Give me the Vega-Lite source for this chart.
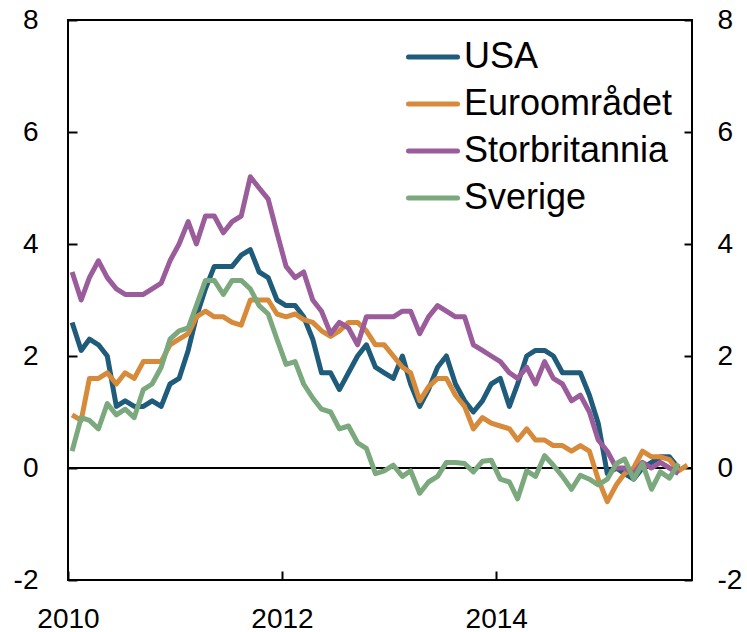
{
"$schema": "https://vega.github.io/schema/vega-lite/v6.json",
"width": 624, "height": 560,
"autosize": {"type": "none"},
"padding": {"left": 68, "top": 20, "right": 55, "bottom": 52},
"background": "white",
"config": {
  "font": "Liberation Sans",
  "view": {"stroke": "black", "strokeWidth": 2},
  "axis": {"labelFont": "Liberation Sans", "labelFontSize": 28, "labelColor": "black", "domainColor": "black", "domainWidth": 2, "tickColor": "black", "tickWidth": 2, "grid": false, "labelFlush": false, "labelOverlap": false}
},
"datasets": {
"cpi": [
{"d":"2010-01-15","s":"USA","v":2.6},{"d":"2010-02-15","s":"USA","v":2.1},{"d":"2010-03-15","s":"USA","v":2.3},{"d":"2010-04-15","s":"USA","v":2.2},{"d":"2010-05-15","s":"USA","v":2.0},{"d":"2010-06-15","s":"USA","v":1.1},{"d":"2010-07-15","s":"USA","v":1.2},{"d":"2010-08-15","s":"USA","v":1.1},{"d":"2010-09-15","s":"USA","v":1.1},{"d":"2010-10-15","s":"USA","v":1.2},{"d":"2010-11-15","s":"USA","v":1.1},{"d":"2010-12-15","s":"USA","v":1.5},
{"d":"2011-01-15","s":"USA","v":1.6},{"d":"2011-02-15","s":"USA","v":2.1},{"d":"2011-03-15","s":"USA","v":2.7},{"d":"2011-04-15","s":"USA","v":3.2},{"d":"2011-05-15","s":"USA","v":3.6},{"d":"2011-06-15","s":"USA","v":3.6},{"d":"2011-07-15","s":"USA","v":3.6},{"d":"2011-08-15","s":"USA","v":3.8},{"d":"2011-09-15","s":"USA","v":3.9},{"d":"2011-10-15","s":"USA","v":3.5},{"d":"2011-11-15","s":"USA","v":3.4},{"d":"2011-12-15","s":"USA","v":3.0},
{"d":"2012-01-15","s":"USA","v":2.9},{"d":"2012-02-15","s":"USA","v":2.9},{"d":"2012-03-15","s":"USA","v":2.7},{"d":"2012-04-15","s":"USA","v":2.3},{"d":"2012-05-15","s":"USA","v":1.7},{"d":"2012-06-15","s":"USA","v":1.7},{"d":"2012-07-15","s":"USA","v":1.4},{"d":"2012-08-15","s":"USA","v":1.7},{"d":"2012-09-15","s":"USA","v":2.0},{"d":"2012-10-15","s":"USA","v":2.2},{"d":"2012-11-15","s":"USA","v":1.8},{"d":"2012-12-15","s":"USA","v":1.7},
{"d":"2013-01-15","s":"USA","v":1.6},{"d":"2013-02-15","s":"USA","v":2.0},{"d":"2013-03-15","s":"USA","v":1.5},{"d":"2013-04-15","s":"USA","v":1.1},{"d":"2013-05-15","s":"USA","v":1.4},{"d":"2013-06-15","s":"USA","v":1.8},{"d":"2013-07-15","s":"USA","v":2.0},{"d":"2013-08-15","s":"USA","v":1.5},{"d":"2013-09-15","s":"USA","v":1.2},{"d":"2013-10-15","s":"USA","v":1.0},{"d":"2013-11-15","s":"USA","v":1.2},{"d":"2013-12-15","s":"USA","v":1.5},
{"d":"2014-01-15","s":"USA","v":1.6},{"d":"2014-02-15","s":"USA","v":1.1},{"d":"2014-03-15","s":"USA","v":1.5},{"d":"2014-04-15","s":"USA","v":2.0},{"d":"2014-05-15","s":"USA","v":2.1},{"d":"2014-06-15","s":"USA","v":2.1},{"d":"2014-07-15","s":"USA","v":2.0},{"d":"2014-08-15","s":"USA","v":1.7},{"d":"2014-09-15","s":"USA","v":1.7},{"d":"2014-10-15","s":"USA","v":1.7},{"d":"2014-11-15","s":"USA","v":1.3},{"d":"2014-12-15","s":"USA","v":0.8},
{"d":"2015-01-15","s":"USA","v":-0.1},{"d":"2015-02-15","s":"USA","v":0.0},{"d":"2015-03-15","s":"USA","v":-0.1},{"d":"2015-04-15","s":"USA","v":-0.2},{"d":"2015-05-15","s":"USA","v":0.0},{"d":"2015-06-15","s":"USA","v":0.1},{"d":"2015-07-15","s":"USA","v":0.2},{"d":"2015-08-15","s":"USA","v":0.2},{"d":"2015-09-15","s":"USA","v":0.0},

{"d":"2010-01-15","s":"Euroområdet","v":0.95},{"d":"2010-02-15","s":"Euroområdet","v":0.85},{"d":"2010-03-15","s":"Euroområdet","v":1.6},{"d":"2010-04-15","s":"Euroområdet","v":1.6},{"d":"2010-05-15","s":"Euroområdet","v":1.7},{"d":"2010-06-15","s":"Euroområdet","v":1.5},{"d":"2010-07-15","s":"Euroområdet","v":1.7},{"d":"2010-08-15","s":"Euroområdet","v":1.6},{"d":"2010-09-15","s":"Euroområdet","v":1.9},{"d":"2010-10-15","s":"Euroområdet","v":1.9},{"d":"2010-11-15","s":"Euroområdet","v":1.9},{"d":"2010-12-15","s":"Euroområdet","v":2.2},
{"d":"2011-01-15","s":"Euroområdet","v":2.3},{"d":"2011-02-15","s":"Euroområdet","v":2.4},{"d":"2011-03-15","s":"Euroområdet","v":2.7},{"d":"2011-04-15","s":"Euroområdet","v":2.8},{"d":"2011-05-15","s":"Euroområdet","v":2.7},{"d":"2011-06-15","s":"Euroområdet","v":2.7},{"d":"2011-07-15","s":"Euroområdet","v":2.6},{"d":"2011-08-15","s":"Euroområdet","v":2.55},{"d":"2011-09-15","s":"Euroområdet","v":3.0},{"d":"2011-10-15","s":"Euroområdet","v":3.0},{"d":"2011-11-15","s":"Euroområdet","v":3.0},{"d":"2011-12-15","s":"Euroområdet","v":2.75},
{"d":"2012-01-15","s":"Euroområdet","v":2.7},{"d":"2012-02-15","s":"Euroområdet","v":2.75},{"d":"2012-03-15","s":"Euroområdet","v":2.65},{"d":"2012-04-15","s":"Euroområdet","v":2.6},{"d":"2012-05-15","s":"Euroområdet","v":2.45},{"d":"2012-06-15","s":"Euroområdet","v":2.35},{"d":"2012-07-15","s":"Euroområdet","v":2.45},{"d":"2012-08-15","s":"Euroområdet","v":2.6},{"d":"2012-09-15","s":"Euroområdet","v":2.6},{"d":"2012-10-15","s":"Euroområdet","v":2.45},{"d":"2012-11-15","s":"Euroområdet","v":2.2},{"d":"2012-12-15","s":"Euroområdet","v":2.2},
{"d":"2013-01-15","s":"Euroområdet","v":2.0},{"d":"2013-02-15","s":"Euroområdet","v":1.8},{"d":"2013-03-15","s":"Euroområdet","v":1.7},{"d":"2013-04-15","s":"Euroområdet","v":1.2},{"d":"2013-05-15","s":"Euroområdet","v":1.45},{"d":"2013-06-15","s":"Euroområdet","v":1.6},{"d":"2013-07-15","s":"Euroområdet","v":1.6},{"d":"2013-08-15","s":"Euroområdet","v":1.3},{"d":"2013-09-15","s":"Euroområdet","v":1.1},{"d":"2013-10-15","s":"Euroområdet","v":0.7},{"d":"2013-11-15","s":"Euroområdet","v":0.9},{"d":"2013-12-15","s":"Euroområdet","v":0.8},
{"d":"2014-01-15","s":"Euroområdet","v":0.75},{"d":"2014-02-15","s":"Euroområdet","v":0.7},{"d":"2014-03-15","s":"Euroområdet","v":0.5},{"d":"2014-04-15","s":"Euroområdet","v":0.7},{"d":"2014-05-15","s":"Euroområdet","v":0.5},{"d":"2014-06-15","s":"Euroområdet","v":0.5},{"d":"2014-07-15","s":"Euroområdet","v":0.4},{"d":"2014-08-15","s":"Euroområdet","v":0.4},{"d":"2014-09-15","s":"Euroområdet","v":0.3},{"d":"2014-10-15","s":"Euroområdet","v":0.4},{"d":"2014-11-15","s":"Euroområdet","v":0.3},{"d":"2014-12-15","s":"Euroområdet","v":-0.2},
{"d":"2015-01-15","s":"Euroområdet","v":-0.6},{"d":"2015-02-15","s":"Euroområdet","v":-0.3},{"d":"2015-03-15","s":"Euroområdet","v":-0.1},{"d":"2015-04-15","s":"Euroområdet","v":0.0},{"d":"2015-05-15","s":"Euroområdet","v":0.3},{"d":"2015-06-15","s":"Euroområdet","v":0.2},{"d":"2015-07-15","s":"Euroområdet","v":0.2},{"d":"2015-08-15","s":"Euroområdet","v":0.15},{"d":"2015-09-15","s":"Euroområdet","v":-0.05},{"d":"2015-10-15","s":"Euroområdet","v":0.05},

{"d":"2010-01-15","s":"Storbritannia","v":3.5},{"d":"2010-02-15","s":"Storbritannia","v":3.0},{"d":"2010-03-15","s":"Storbritannia","v":3.4},{"d":"2010-04-15","s":"Storbritannia","v":3.7},{"d":"2010-05-15","s":"Storbritannia","v":3.4},{"d":"2010-06-15","s":"Storbritannia","v":3.2},{"d":"2010-07-15","s":"Storbritannia","v":3.1},{"d":"2010-08-15","s":"Storbritannia","v":3.1},{"d":"2010-09-15","s":"Storbritannia","v":3.1},{"d":"2010-10-15","s":"Storbritannia","v":3.2},{"d":"2010-11-15","s":"Storbritannia","v":3.3},{"d":"2010-12-15","s":"Storbritannia","v":3.7},
{"d":"2011-01-15","s":"Storbritannia","v":4.0},{"d":"2011-02-15","s":"Storbritannia","v":4.4},{"d":"2011-03-15","s":"Storbritannia","v":4.0},{"d":"2011-04-15","s":"Storbritannia","v":4.5},{"d":"2011-05-15","s":"Storbritannia","v":4.5},{"d":"2011-06-15","s":"Storbritannia","v":4.2},{"d":"2011-07-15","s":"Storbritannia","v":4.4},{"d":"2011-08-15","s":"Storbritannia","v":4.5},{"d":"2011-09-15","s":"Storbritannia","v":5.2},{"d":"2011-10-15","s":"Storbritannia","v":5.0},{"d":"2011-11-15","s":"Storbritannia","v":4.8},{"d":"2011-12-15","s":"Storbritannia","v":4.2},
{"d":"2012-01-15","s":"Storbritannia","v":3.6},{"d":"2012-02-15","s":"Storbritannia","v":3.4},{"d":"2012-03-15","s":"Storbritannia","v":3.5},{"d":"2012-04-15","s":"Storbritannia","v":3.0},{"d":"2012-05-15","s":"Storbritannia","v":2.8},{"d":"2012-06-15","s":"Storbritannia","v":2.4},{"d":"2012-07-15","s":"Storbritannia","v":2.6},{"d":"2012-08-15","s":"Storbritannia","v":2.5},{"d":"2012-09-15","s":"Storbritannia","v":2.2},{"d":"2012-10-15","s":"Storbritannia","v":2.7},{"d":"2012-11-15","s":"Storbritannia","v":2.7},{"d":"2012-12-15","s":"Storbritannia","v":2.7},
{"d":"2013-01-15","s":"Storbritannia","v":2.7},{"d":"2013-02-15","s":"Storbritannia","v":2.8},{"d":"2013-03-15","s":"Storbritannia","v":2.8},{"d":"2013-04-15","s":"Storbritannia","v":2.4},{"d":"2013-05-15","s":"Storbritannia","v":2.7},{"d":"2013-06-15","s":"Storbritannia","v":2.9},{"d":"2013-07-15","s":"Storbritannia","v":2.8},{"d":"2013-08-15","s":"Storbritannia","v":2.7},{"d":"2013-09-15","s":"Storbritannia","v":2.7},{"d":"2013-10-15","s":"Storbritannia","v":2.2},{"d":"2013-11-15","s":"Storbritannia","v":2.1},{"d":"2013-12-15","s":"Storbritannia","v":2.0},
{"d":"2014-01-15","s":"Storbritannia","v":1.9},{"d":"2014-02-15","s":"Storbritannia","v":1.7},{"d":"2014-03-15","s":"Storbritannia","v":1.6},{"d":"2014-04-15","s":"Storbritannia","v":1.8},{"d":"2014-05-15","s":"Storbritannia","v":1.5},{"d":"2014-06-15","s":"Storbritannia","v":1.9},{"d":"2014-07-15","s":"Storbritannia","v":1.6},{"d":"2014-08-15","s":"Storbritannia","v":1.5},{"d":"2014-09-15","s":"Storbritannia","v":1.2},{"d":"2014-10-15","s":"Storbritannia","v":1.3},{"d":"2014-11-15","s":"Storbritannia","v":1.0},{"d":"2014-12-15","s":"Storbritannia","v":0.5},
{"d":"2015-01-15","s":"Storbritannia","v":0.3},{"d":"2015-02-15","s":"Storbritannia","v":0.0},{"d":"2015-03-15","s":"Storbritannia","v":0.0},{"d":"2015-04-15","s":"Storbritannia","v":-0.1},{"d":"2015-05-15","s":"Storbritannia","v":0.1},{"d":"2015-06-15","s":"Storbritannia","v":0.0},{"d":"2015-07-15","s":"Storbritannia","v":0.1},{"d":"2015-08-15","s":"Storbritannia","v":0.0},{"d":"2015-09-15","s":"Storbritannia","v":-0.1},

{"d":"2010-01-15","s":"Sverige","v":0.3},{"d":"2010-02-15","s":"Sverige","v":0.9},{"d":"2010-03-15","s":"Sverige","v":0.85},{"d":"2010-04-15","s":"Sverige","v":0.7},{"d":"2010-05-15","s":"Sverige","v":1.15},{"d":"2010-06-15","s":"Sverige","v":0.95},{"d":"2010-07-15","s":"Sverige","v":1.05},{"d":"2010-08-15","s":"Sverige","v":0.9},{"d":"2010-09-15","s":"Sverige","v":1.4},{"d":"2010-10-15","s":"Sverige","v":1.5},{"d":"2010-11-15","s":"Sverige","v":1.8},{"d":"2010-12-15","s":"Sverige","v":2.3},
{"d":"2011-01-15","s":"Sverige","v":2.45},{"d":"2011-02-15","s":"Sverige","v":2.5},{"d":"2011-03-15","s":"Sverige","v":2.9},{"d":"2011-04-15","s":"Sverige","v":3.35},{"d":"2011-05-15","s":"Sverige","v":3.35},{"d":"2011-06-15","s":"Sverige","v":3.1},{"d":"2011-07-15","s":"Sverige","v":3.35},{"d":"2011-08-15","s":"Sverige","v":3.35},{"d":"2011-09-15","s":"Sverige","v":3.2},{"d":"2011-10-15","s":"Sverige","v":2.9},{"d":"2011-11-15","s":"Sverige","v":2.75},{"d":"2011-12-15","s":"Sverige","v":2.3},
{"d":"2012-01-15","s":"Sverige","v":1.85},{"d":"2012-02-15","s":"Sverige","v":1.9},{"d":"2012-03-15","s":"Sverige","v":1.5},{"d":"2012-04-15","s":"Sverige","v":1.25},{"d":"2012-05-15","s":"Sverige","v":1.05},{"d":"2012-06-15","s":"Sverige","v":1.0},{"d":"2012-07-15","s":"Sverige","v":0.7},{"d":"2012-08-15","s":"Sverige","v":0.75},{"d":"2012-09-15","s":"Sverige","v":0.45},{"d":"2012-10-15","s":"Sverige","v":0.35},{"d":"2012-11-15","s":"Sverige","v":-0.1},{"d":"2012-12-15","s":"Sverige","v":-0.05},
{"d":"2013-01-15","s":"Sverige","v":0.05},{"d":"2013-02-15","s":"Sverige","v":-0.15},{"d":"2013-03-15","s":"Sverige","v":-0.05},{"d":"2013-04-15","s":"Sverige","v":-0.45},{"d":"2013-05-15","s":"Sverige","v":-0.25},{"d":"2013-06-15","s":"Sverige","v":-0.15},{"d":"2013-07-15","s":"Sverige","v":0.1},{"d":"2013-08-15","s":"Sverige","v":0.1},{"d":"2013-09-15","s":"Sverige","v":0.08},{"d":"2013-10-15","s":"Sverige","v":-0.07},{"d":"2013-11-15","s":"Sverige","v":0.12},{"d":"2013-12-15","s":"Sverige","v":0.14},
{"d":"2014-01-15","s":"Sverige","v":-0.2},{"d":"2014-02-15","s":"Sverige","v":-0.25},{"d":"2014-03-15","s":"Sverige","v":-0.55},{"d":"2014-04-15","s":"Sverige","v":-0.05},{"d":"2014-05-15","s":"Sverige","v":-0.15},{"d":"2014-06-15","s":"Sverige","v":0.22},{"d":"2014-07-15","s":"Sverige","v":0.05},{"d":"2014-08-15","s":"Sverige","v":-0.15},{"d":"2014-09-15","s":"Sverige","v":-0.38},{"d":"2014-10-15","s":"Sverige","v":-0.13},{"d":"2014-11-15","s":"Sverige","v":-0.2},{"d":"2014-12-15","s":"Sverige","v":-0.3},
{"d":"2015-01-15","s":"Sverige","v":-0.2},{"d":"2015-02-15","s":"Sverige","v":0.08},{"d":"2015-03-15","s":"Sverige","v":0.16},{"d":"2015-04-15","s":"Sverige","v":-0.2},{"d":"2015-05-15","s":"Sverige","v":0.08},{"d":"2015-06-15","s":"Sverige","v":-0.38},{"d":"2015-07-15","s":"Sverige","v":-0.07},{"d":"2015-08-15","s":"Sverige","v":-0.18},{"d":"2015-09-15","s":"Sverige","v":0.08}
],
"zero": [{"z": 0}]
},
"layer": [
  {
    "data": {"name": "zero"},
    "mark": {"type": "rule", "color": "black", "strokeWidth": 2},
    "encoding": {
      "y": {"field": "z", "type": "quantitative",
        "scale": {"domain": [-2, 8], "nice": false, "zero": false},
        "axis": {"orient": "right", "title": null, "values": [-2, 0, 2, 4, 6, 8], "tickSize": -8, "labelPadding": 33, "labelAlign": "left", "labelBaseline": "middle", "domain": false, "labelExpr": "replace(datum.label, '\u2212', '-')"}}
    }
  },
  {
    "data": {"name": "cpi"},
    "mark": {"type": "line", "strokeWidth": 5, "strokeJoin": "round", "clip": true},
    "encoding": {
      "x": {"field": "d", "type": "temporal",
        "scale": {"type": "utc", "domain": [{"year": 2010, "month": 1, "date": 1, "utc": true}, {"year": 2015, "month": 10, "date": 31, "utc": true}]},
        "axis": {"title": null, "values": [{"year": 2010, "month": 1, "date": 1, "utc": true}, {"year": 2012, "month": 1, "date": 1, "utc": true}, {"year": 2014, "month": 1, "date": 1, "utc": true}], "format": "%Y", "tickSize": -9, "labelPadding": 34, "domain": false}},
      "y": {"field": "v", "type": "quantitative",
        "axis": {"orient": "left", "title": null, "values": [-2, 0, 2, 4, 6, 8], "tickSize": -9, "labelPadding": 39, "labelAlign": "right", "labelBaseline": "middle", "domain": false, "labelExpr": "replace(datum.label, '\u2212', '-')"}},
      "color": {"field": "s", "type": "nominal",
        "scale": {"domain": ["USA", "Euroområdet", "Storbritannia", "Sverige"], "range": ["#1F5B7A", "#D78A3A", "#9A5C9B", "#7BA97D"]},
        "legend": {"orient": "none", "legendX": 338, "legendY": 10, "title": null, "padding": 0, "symbolType": "stroke", "symbolSize": 2401, "symbolStrokeWidth": 5, "labelFontSize": 36, "labelFont": "Liberation Sans", "labelColor": "black", "labelOffset": 4, "rowPadding": 2, "labelLimit": 400,
          "encode": {"symbols": {"update": {"strokeCap": {"value": "round"}}}}}}
    }
  }
],
"resolve": {"axis": {"y": "independent"}}
}
